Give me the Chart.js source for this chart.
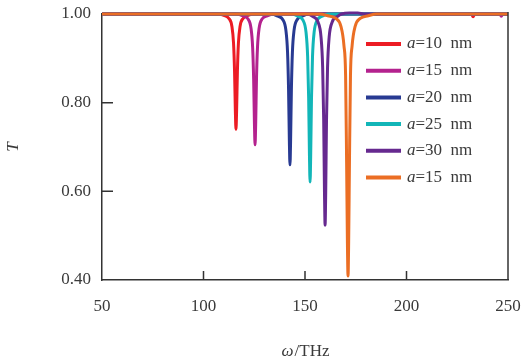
<!DOCTYPE html>
<html>
<head>
<meta charset="utf-8">
<script src="https://cdn.jsdelivr.net/npm/chart.js@4"></script>
<style>
html,body{margin:0;padding:0;background:#fff;}
#wrap{width:523px;height:364px;}
</style>
</head>
<body>
<div id="wrap"><canvas id="c" width="523" height="364"></canvas></div>
<script>
// ---- data ----
const seriesLabels = ['a=10 nm', 'a=15 nm', 'a=20 nm', 'a=25 nm', 'a=30 nm', 'a=15 nm'];
const seriesColors = ['#ec1c24', '#b4228e', '#283a92', '#12b6b8', '#66298f', '#eb6e24'];

const redX = [50, 107, 110, 112.5, 114, 114.8, 115.3, 115.7, 116, 116.3, 116.7, 117.2, 118, 119.5, 122, 125, 232, 232.8, 233.6, 250];
const redY = [1, 1, 0.997, 0.99, 0.972, 0.934, 0.87, 0.78, 0.74, 0.78, 0.87, 0.934, 0.972, 0.99, 0.997, 1, 1, 0.994, 1, 1];

const magentaX = [50, 116.4, 119.4, 121.9, 123.4, 124.2, 124.7, 125.1, 125.4, 125.7, 126.1, 126.6, 127.4, 128.9, 131.4, 134.4, 246, 246.7, 247.4, 250];
const magentaY = [1, 1, 0.996, 0.989, 0.968, 0.925, 0.853, 0.751, 0.705, 0.751, 0.853, 0.925, 0.968, 0.989, 0.996, 1, 1, 0.995, 1, 1];

const blueX = [50, 133.6, 136.6, 139.1, 140.6, 141.4, 141.9, 142.3, 142.6, 142.9, 143.3, 143.8, 144.6, 146.1, 148.6, 151.6, 250];
const blueY = [1, 1, 0.995, 0.987, 0.963, 0.914, 0.83, 0.713, 0.66, 0.713, 0.83, 0.914, 0.963, 0.987, 0.995, 1, 1];

const cyanX = [50, 143.5, 146.5, 149, 150.5, 151.3, 151.8, 152.2, 152.5, 152.8, 153.2, 153.7, 154.5, 156, 158.5, 161.5, 250];
const cyanY = [1, 1, 0.995, 0.986, 0.959, 0.904, 0.81, 0.68, 0.621, 0.68, 0.81, 0.904, 0.959, 0.986, 0.995, 1, 1];

const purpleX = [50, 150.9, 153.9, 156.4, 157.9, 158.7, 159.2, 159.6, 159.9, 160.2, 160.6, 161.1, 161.9, 163.4, 165.9, 168, 172, 176, 179, 250];
const purpleY = [1, 1, 0.994, 0.982, 0.948, 0.879, 0.762, 0.598, 0.524, 0.598, 0.762, 0.879, 0.948, 0.982, 0.994, 1, 1.002, 1.002, 1, 1];

const orangeX = [50, 157.2, 161.2, 165.2, 167.7, 169.2, 170, 170.5, 170.9, 171.2, 171.5, 171.9, 172.4, 173.2, 174.7, 177.2, 181.2, 185.2, 250];
const orangeY = [1, 1, 0.996, 0.99, 0.972, 0.928, 0.861, 0.665, 0.482, 0.409, 0.482, 0.665, 0.861, 0.928, 0.972, 0.99, 0.996, 1, 1];

const xTicks = [50, 100, 150, 200, 250];
const yTicks = [0.4, 0.6, 0.8, 1.0];
const xTitleItalic = 'ω';
const xTitleRest = '/THz';
const yTitle = 'T';

// ---- build ----
const xs = [redX, magentaX, blueX, cyanX, purpleX, orangeX];
const ys = [redY, magentaY, blueY, cyanY, purpleY, orangeY];
const FONT = '"Liberation Serif", "DejaVu Serif", serif';
const TEXT = '#3a3a3a';

const datasets = seriesLabels.map((lab, i) => ({
  label: lab,
  data: xs[i].map((x, j) => ({x: x, y: ys[i][j]})),
  borderColor: seriesColors[i],
  backgroundColor: seriesColors[i],
  borderWidth: 3,
  pointRadius: 0,
  cubicInterpolationMode: 'monotone',
  fill: false,
  clip: 6,
  order: seriesLabels.length - i
}));

const decor = {
  id: 'decor',
  afterDraw(chart) {
    const ctx = chart.ctx;
    const a = chart.chartArea;
    const xs_ = chart.scales.x, ys_ = chart.scales.y;
    ctx.save();
    // right border
    ctx.strokeStyle = '#333';
    ctx.lineWidth = 1.5;
    ctx.beginPath();
    ctx.moveTo(a.right, a.top - 2);
    ctx.lineTo(a.right, a.bottom);
    ctx.stroke();
    // inward ticks
    ctx.beginPath();
    yTicks.forEach(v => {
      if (v === ys_.min || v === ys_.max) return;
      const p = ys_.getPixelForValue(v);
      ctx.moveTo(a.left, p); ctx.lineTo(a.left + 11, p);
    });
    xTicks.forEach(v => {
      if (v === xs_.min || v === xs_.max) return;
      const p = xs_.getPixelForValue(v);
      ctx.moveTo(p, a.bottom); ctx.lineTo(p, a.bottom - 9);
    });
    ctx.stroke();
    // legend
    const lx = a.left + 264, ly0 = a.top + 30, step = 26.7;
    seriesLabels.forEach((lab, i) => {
      const y = ly0 + i * step;
      ctx.strokeStyle = seriesColors[i];
      ctx.lineWidth = 4;
      ctx.beginPath();
      ctx.moveTo(lx, y); ctx.lineTo(lx + 35, y);
      ctx.stroke();
      ctx.fillStyle = TEXT;
      ctx.textBaseline = 'middle';
      ctx.textAlign = 'left';
      ctx.font = 'italic 17px ' + FONT;
      const first = lab.charAt(0);
      ctx.fillText(first, lx + 41, y);
      const w = ctx.measureText(first).width;
      ctx.font = '17px ' + FONT;
      ctx.fillText(lab.slice(1).replace(' ', '\u2002'), lx + 41 + w, y);
    });
    // x title
    ctx.fillStyle = TEXT;
    ctx.textBaseline = 'middle';
    ctx.font = 'italic 17px ' + FONT;
    const w1 = ctx.measureText(xTitleItalic).width;
    ctx.font = '17px ' + FONT;
    const w2 = ctx.measureText(xTitleRest).width;
    const cx = (a.left + a.right) / 2;
    const tx = cx - (w1 + w2) / 2;
    ctx.textAlign = 'left';
    ctx.font = 'italic 17px ' + FONT;
    ctx.fillText(xTitleItalic, tx, 352);
    ctx.font = '17px ' + FONT;
    ctx.fillText(xTitleRest, tx + w1 + 1, 352);
    // y title
    ctx.save();
    ctx.translate(14, (a.top + a.bottom) / 2);
    ctx.rotate(-Math.PI / 2);
    ctx.textAlign = 'center';
    ctx.font = 'italic 17px ' + FONT;
    ctx.fillText(yTitle, 0, 0);
    ctx.restore();
    ctx.restore();
  }
};

new Chart(document.getElementById('c'), {
  type: 'line',
  data: {datasets: datasets},
  options: {
    responsive: false,
    animation: false,
    devicePixelRatio: 1,
    layout: {padding: {top: 14, right: 15, left: 0, bottom: 0}},
    plugins: {legend: {display: false}, tooltip: {enabled: false}},
    scales: {
      x: {
        type: 'linear',
        min: 50, max: 250,
        afterBuildTicks: s => { s.ticks = xTicks.map(v => ({value: v})); },
        afterFit: s => { s.height = 84; s.paddingLeft = 0; s.paddingRight = 0; },
        grid: {display: false, drawTicks: false},
        border: {display: true, color: '#333', width: 1.5},
        ticks: {padding: 16, color: TEXT, font: {family: FONT, size: 17}, maxRotation: 0, autoSkip: false,
                callback: v => String(v)}
      },
      y: {
        type: 'linear',
        min: 0.4, max: 1.0,
        afterBuildTicks: s => { s.ticks = yTicks.map(v => ({value: v})); },
        afterFit: s => { s.width = 102; s.paddingTop = 0; s.paddingBottom = 0; },
        grid: {display: false, drawTicks: false},
        border: {display: true, color: '#333', width: 1.5},
        ticks: {padding: 11, color: TEXT, font: {family: FONT, size: 17}, autoSkip: false,
                callback: v => Number(v).toFixed(2)}
      }
    }
  },
  plugins: [decor]
});
</script>
</body>
</html>
